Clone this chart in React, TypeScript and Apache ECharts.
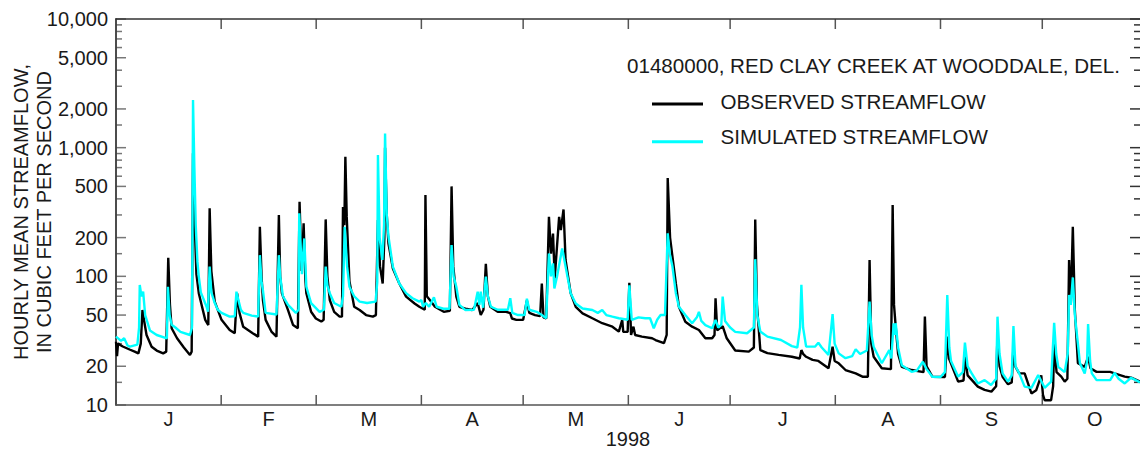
import React, { useEffect, useRef } from 'react';
import * as echarts from 'echarts';

const monthLabels = ['J', 'F', 'M', 'A', 'M', 'J', 'J', 'A', 'S', 'O'];
const monthStarts = [0, 31, 59, 90, 120, 151, 181, 212, 243, 273, 304];
const yMajorTicks = [10, 20, 50, 100, 200, 500, 1000, 2000, 5000, 10000];
const yMinorTicks = [15, 30, 40, 60, 70, 80, 90, 150, 300, 400, 600, 700, 800, 900, 1500, 3000, 4000, 6000, 7000, 8000, 9000];
const stationTitle = '01480000, RED CLAY CREEK AT WOODDALE, DEL.';
const seriesNames = ['OBSERVED STREAMFLOW', 'SIMULATED STREAMFLOW'];
const yearLabel = '1998';
const yTitleLines = ['HOURLY MEAN STREAMFLOW,', 'IN CUBIC FEET PER SECOND'];
const X_MAX = 301.8;

// [day of 1998 (0 = Jan 1), streamflow in cubic feet per second]
const observed: [number, number][] = [
  [0, 31], [0.3, 24], [0.6, 30], [2, 28.5], [4, 27], [5.5, 26], [6.6, 25.2], [7.3, 30], [7.8, 54.7], [8.3, 45], [9, 35],
  [10.5, 28.4], [12, 26.5], [13.9, 25.2], [14.8, 26], [15.4, 139.6], [15.9, 60], [16.4, 39.5], [18, 33], [20, 28],
  [21.8, 24.5], [22.3, 26], [22.7, 903], [23.1, 300], [23.7, 104], [24.4, 74], [26.3, 45.9], [27.2, 41.8], [27.6, 338],
  [28.1, 110], [29.1, 63.6], [31.1, 45.9], [33.5, 38.3], [35, 36.1], [35.3, 50], [35.7, 73.8], [36.4, 52], [37.5, 40.5],
  [40.4, 36], [41.9, 34], [42.4, 243], [42.9, 100], [43.3, 65.5], [44.1, 45.9], [45.8, 37.2], [47.3, 34], [48, 300],
  [48.4, 99.5], [48.9, 73.8], [50.7, 54.7], [52.2, 41.8], [53.6, 39.5], [54.1, 380], [54.7, 110], [55.3, 258], [55.8, 95],
  [56.1, 73.8], [57.5, 53], [58.9, 47], [60.5, 44.5], [61.2, 46], [61.8, 277], [62.3, 100], [63, 65.5], [64.3, 53],
  [65.9, 48.6], [66.6, 48.6], [66.9, 346], [67.3, 250], [67.6, 851], [68, 291], [68.8, 91.5], [70.2, 58], [71.8, 54.7],
  [73.7, 50], [75.7, 48.6], [76.6, 50], [77.2, 274], [77.8, 120], [78.6, 88], [79.1, 200], [79.3, 1000], [79.8, 300],
  [80.3, 180], [81.6, 115], [83.5, 88], [85.5, 69.5], [88, 61.5], [89.4, 58], [91, 55], [91.2, 428], [91.6, 70],
  [92.5, 65.5], [94, 58], [96.6, 53], [98.4, 54], [98.9, 500], [99.4, 120], [100.3, 69.5], [101.2, 58], [103, 56],
  [105, 54.7], [106.6, 62], [107.5, 50], [108.3, 55], [109, 125], [109.6, 70], [110.3, 58], [112.5, 53], [115, 53],
  [116.2, 51.7], [116.7, 47], [118, 45.9], [120, 46], [121.1, 65], [121.8, 52], [123.5, 50], [125, 49], [125.5, 88],
  [126, 48], [126.8, 47], [127.6, 290], [128.2, 150], [128.8, 215], [129.3, 96.5], [130.6, 290], [131.1, 229],
  [131.9, 331], [132.5, 134], [134, 74], [135.5, 58], [137.5, 51.6], [140.4, 47.2], [143.3, 43.2], [146.3, 40.6],
  [148.2, 37.2], [149.2, 45.9], [149.5, 37], [150.8, 37], [151.3, 89], [151.8, 35], [152.5, 40.6], [153, 35], [155, 34],
  [158, 33], [159, 32], [161.5, 30.2], [162.3, 35], [162.6, 580], [163.3, 200], [164, 142], [165, 88], [165.9, 58],
  [167.8, 44.3], [169.8, 40.6], [171.8, 38.3], [173.7, 33], [175.7, 33], [176.4, 35], [176.7, 67.6], [177.2, 38],
  [178.8, 41], [180, 33], [182.5, 26.5], [186.5, 26], [188, 28], [188.4, 277], [188.9, 60], [189.9, 26.7], [192, 25.3],
  [195.3, 24.5], [199.2, 23.7], [201.5, 23], [202, 26.7], [202.5, 25], [203.4, 23.7], [205.3, 22.4], [207, 22],
  [210, 19.3], [211.2, 28.4], [211.8, 22], [213, 21.1], [215, 18.7], [218, 17.6], [220, 16.6], [221.6, 16.6],
  [222.1, 134], [222.6, 30], [223.3, 23.7], [225.7, 19.3], [228.4, 19], [228.9, 358], [229.3, 60], [229.8, 40.6],
  [230.5, 25], [231.6, 19.8], [234.5, 18.7], [238, 18], [238.4, 48.6], [238.9, 20], [240.6, 16.6], [244.3, 16.5],
  [245, 34], [245.5, 23], [246.1, 21], [248.2, 15.2], [249.8, 15.5], [250.2, 23.7], [251, 17], [254, 13.9], [256, 13.1],
  [258, 12.7], [259.4, 14], [259.8, 36.1], [260.4, 20], [261.3, 16.6], [262.9, 14.5], [264, 15], [264.5, 28.4],
  [265, 20], [266.2, 17.6], [267.8, 17.6], [269.8, 12.3], [271.2, 13], [272.7, 17], [273.2, 12], [273.7, 10.9],
  [275.6, 10.9], [276.2, 14], [276.5, 30.2], [277.2, 18], [278.6, 16.6], [279.6, 15.2], [280.4, 16], [280.9, 134],
  [281.4, 60], [282, 243], [282.6, 54.7], [283.5, 21.1], [285.5, 19.8], [286.5, 23.7], [287.2, 19.3], [289, 18.1],
  [293, 18.1], [294.3, 17.6], [297.3, 16.6], [299.2, 16.3], [301.8, 15.2],
];

const simulated: [number, number][] = [
  [0, 34], [1.5, 31.5], [2.4, 33], [3.4, 29], [4.1, 28.4], [6.3, 29.5], [6.8, 40], [7, 85.7], [7.5, 70], [8, 76],
  [8.6, 50], [10, 38], [12, 35], [15, 33], [15.3, 83], [15.8, 50], [16.4, 42], [17.5, 40], [19, 37], [21.8, 35],
  [22.4, 40], [22.7, 2346], [23.1, 700], [23.5, 250], [24, 130], [24.4, 99.5], [25, 75], [26.7, 58], [27.1, 53],
  [27.6, 119], [28.1, 75], [29.1, 62], [30, 55], [31.1, 52], [33.5, 48.6], [35, 49], [35.5, 76], [36.1, 65], [36.8, 55],
  [37.5, 52], [40, 49.5], [41.9, 48.7], [42.4, 146], [42.9, 90], [43.3, 78], [44.1, 52], [47.3, 50.5], [48, 146],
  [48.4, 99.5], [49.2, 70], [50.7, 60], [53, 52], [53.8, 55], [54, 309], [54.8, 104], [55.5, 197], [56.1, 83],
  [57.5, 62], [60, 53], [61.3, 55], [61.8, 119], [62.3, 85], [63, 74], [64.3, 62], [66.4, 58], [66.9, 70], [67.4, 243],
  [68.1, 120], [68.8, 83], [70.2, 70], [71.8, 63.6], [74, 62], [76.5, 63.6], [77, 90], [77.2, 877], [77.7, 200],
  [78.5, 134], [79, 250], [79.3, 1290], [79.8, 300], [80.3, 204], [81.6, 119], [83.5, 88], [85.5, 74], [87.4, 67.6],
  [89.4, 63.6], [90, 65.5], [90.5, 58], [91.3, 62], [92.3, 58], [93.7, 68.6], [94.5, 58], [96.5, 56], [98.3, 56],
  [98.9, 175], [99.5, 100], [100.3, 83], [101.2, 60], [103, 54.7], [105.5, 55], [106.6, 76], [107.1, 60], [107.5, 76],
  [108.2, 57], [109, 99.5], [109.6, 70], [110.5, 58], [112.5, 55], [115.5, 55], [116.2, 67.6], [116.8, 52], [118.5, 50],
  [120.4, 50], [121.1, 67], [121.8, 55], [124, 53], [125.5, 50], [126.8, 47.2], [127.6, 150.6], [128.2, 100],
  [128.8, 126], [129.2, 80.6], [130, 100], [131.5, 165], [132.5, 119], [134, 74], [135.5, 61.5], [137.5, 56.2],
  [140.4, 54.7], [142, 52], [143.3, 54.7], [144.5, 50], [146.3, 48.6], [148.2, 47.2], [150.8, 46], [151.3, 85],
  [152, 45.9], [154, 48], [156, 47.2], [157.4, 47.2], [158.5, 39.5], [159.5, 46], [160.5, 50], [161.8, 50], [162.6, 216],
  [163.2, 150], [164, 119], [165, 74], [165.9, 58], [167.8, 50], [169.8, 43.2], [171.2, 48], [171.8, 53], [172.5, 45],
  [173.7, 41.8], [175.7, 39.5], [176.7, 45.9], [177.5, 40], [178.4, 42], [178.8, 69.5], [179.5, 45], [181, 40],
  [182.5, 37], [186, 36.1], [188, 40], [188.4, 136], [189, 50], [189.9, 37.2], [192, 34], [196, 32], [199.2, 28.7],
  [200.8, 28], [201.6, 40], [202, 85.8], [202.5, 40], [203.4, 28.4], [206, 28.4], [207, 30.5], [208, 28], [210, 24.5],
  [211.2, 50.9], [211.8, 30], [213, 25.2], [215, 23.1], [217, 24], [218, 27.1], [219.3, 24.9], [221.3, 26.5],
  [222.1, 63.6], [222.7, 35], [223.3, 28.4], [225.7, 21.1], [227.9, 26.7], [228.5, 23], [229.2, 43.2], [229.5, 35],
  [229.8, 43.2], [230.5, 28], [231.6, 20.4], [234.5, 18.1], [236, 18.5], [237.8, 21.7], [238.9, 19], [240.6, 16.6],
  [243, 16.5], [244.3, 18], [245, 71.7], [245.6, 28], [246.1, 22], [248.2, 16.6], [249.6, 18], [250.2, 30.5], [251, 20],
  [252.2, 17.6], [254, 14.7], [256, 15.6], [257.9, 14.3], [259.4, 16], [259.8, 48.6], [260.4, 25], [261.3, 17.6],
  [262.9, 15.2], [264, 17], [264.5, 41.1], [265.1, 20], [266.2, 17.6], [267.8, 13.9], [269.8, 13.6], [271.8, 17.1],
  [273.7, 13.6], [275.6, 15.2], [276.5, 43.5], [277.1, 25], [277.7, 19.8], [279.6, 18], [280.5, 25], [280.9, 71.7],
  [281.4, 60], [282, 98], [282.6, 50], [283.5, 30], [284.1, 21.1], [285.5, 17.6], [286.2, 22], [286.5, 42.6], [287.1, 22],
  [287.6, 17.6], [289, 15.6], [293, 15.6], [294.3, 17.8], [295.5, 16], [297.3, 14.7], [299.2, 16.3], [301.8, 15],
];

const FONT = '20px "Liberation Sans", Arial, sans-serif';
const LEGEND_FONT = '20.6px "Liberation Sans", Arial, sans-serif';
const TEXT = '#1a1a1a';

export default function App() {
  const ref = useRef<HTMLDivElement>(null);
  useEffect(() => {
    const chart = echarts.init(ref.current!, null, { renderer: 'svg' });
    const hiddenX = {
      type: 'value', min: 0, max: X_MAX,
      axisTick: { show: false }, axisLabel: { show: false }, splitLine: { show: false },
    };
    const hiddenY = {
      type: 'log', logBase: 10, min: 10, max: 10000,
      axisTick: { show: false }, axisLabel: { show: false }, splitLine: { show: false },
    };
    chart.setOption({
      animation: false,
      grid: { left: 116, right: -2, top: 19, bottom: 44, show: false },
      xAxis: [
        { ...hiddenX, position: 'bottom', axisLine: { show: true, onZero: false, lineStyle: { color: '#555', width: 1.5 } } },
        { ...hiddenX, position: 'top', axisLine: { show: true, onZero: false, lineStyle: { color: '#333', width: 1.5 } } },
      ],
      yAxis: [
        { ...hiddenY, position: 'left', axisLine: { show: true, lineStyle: { color: '#777', width: 1.5 } } },
        { ...hiddenY, position: 'right', axisLine: { show: true, lineStyle: { color: '#333', width: 1.5 } } },
      ],
      series: [
        {
          type: 'line', name: seriesNames[0], data: observed, xAxisIndex: 0, yAxisIndex: 0,
          showSymbol: false, symbol: 'none', lineStyle: { color: '#000', width: 2.4 }, z: 2,
        },
        {
          type: 'line', name: seriesNames[1], data: simulated, xAxisIndex: 0, yAxisIndex: 0,
          showSymbol: false, symbol: 'none', lineStyle: { color: '#00FFFF', width: 2.4 }, z: 3,
        },
      ],
    });

    const px = (d: number) => chart.convertToPixel({ xAxisIndex: 0 }, d) as number;
    const py = (v: number) => chart.convertToPixel({ yAxisIndex: 0 }, v) as number;
    const x0 = px(0);
    const x1 = px(X_MAX);
    const yTop = py(10000);
    const yBot = py(10);
    const els: any[] = [];
    const line = (ax: number, ay: number, bx: number, by: number, color: string) =>
      els.push({ type: 'line', silent: true, shape: { x1: ax, y1: ay, x2: bx, y2: by }, style: { stroke: color, lineWidth: 1.5 } });

    yMajorTicks.forEach((v) => {
      const y = py(v);
      line(x0, y, x0 + 10, y, '#777');
      line(x1, y, x1 - 10, y, '#333');
      els.push({
        type: 'text', silent: true, x: x0 - 8, y,
        style: { text: v.toLocaleString('en-US'), font: FONT, fill: TEXT, align: 'right', verticalAlign: 'middle' },
      });
    });
    yMinorTicks.forEach((v) => {
      const y = py(v);
      line(x0, y, x0 + 6, y, '#777');
      line(x1, y, x1 - 6, y, '#333');
    });
    monthStarts.slice(1, -1).forEach((d) => {
      const x = px(d);
      line(x, yTop, x, yTop + 10, '#555');
      line(x, yBot, x, yBot - 10, '#555');
    });
    monthLabels.forEach((m, i) => {
      const mid = (monthStarts[i] + monthStarts[i + 1]) / 2;
      els.push({
        type: 'text', silent: true, x: px(mid), y: yBot + 14,
        style: { text: m, font: FONT, fill: TEXT, align: 'center', verticalAlign: 'middle' },
      });
    });
    els.push({
      type: 'text', silent: true, x: (x0 + x1) / 2, y: yBot + 34,
      style: { text: yearLabel, font: FONT, fill: TEXT, align: 'center', verticalAlign: 'middle' },
    });
    yTitleLines.forEach((t, i) => {
      els.push({
        type: 'text', silent: true, x: 21 + i * 22.5, y: 212, rotation: Math.PI / 2,
        style: { text: t, font: FONT, fill: TEXT, align: 'center', verticalAlign: 'middle' },
      });
    });
    // legend
    els.push({
      type: 'text', silent: true, x: 627, y: 65.5,
      style: { text: stationTitle, font: LEGEND_FONT, fill: TEXT, align: 'left', verticalAlign: 'middle' },
    });
    const legendColors = ['#000', '#00FFFF'];
    seriesNames.forEach((n, i) => {
      const ly = 104 + i * 37.7;
      els.push({ type: 'line', silent: true, shape: { x1: 652, y1: ly, x2: 703, y2: ly }, style: { stroke: legendColors[i], lineWidth: 3 } });
      els.push({
        type: 'text', silent: true, x: 720.5, y: 101 + i * 35.3,
        style: { text: n, font: LEGEND_FONT, fill: TEXT, align: 'left', verticalAlign: 'middle' },
      });
    });
    chart.setOption({ graphic: els });
    return () => chart.dispose();
  }, []);
  return (
    <div
      ref={ref}
      style={{ position: 'fixed', left: 0, top: 0, width: 1140, height: 449, background: '#fff' }}
    />
  );
}
